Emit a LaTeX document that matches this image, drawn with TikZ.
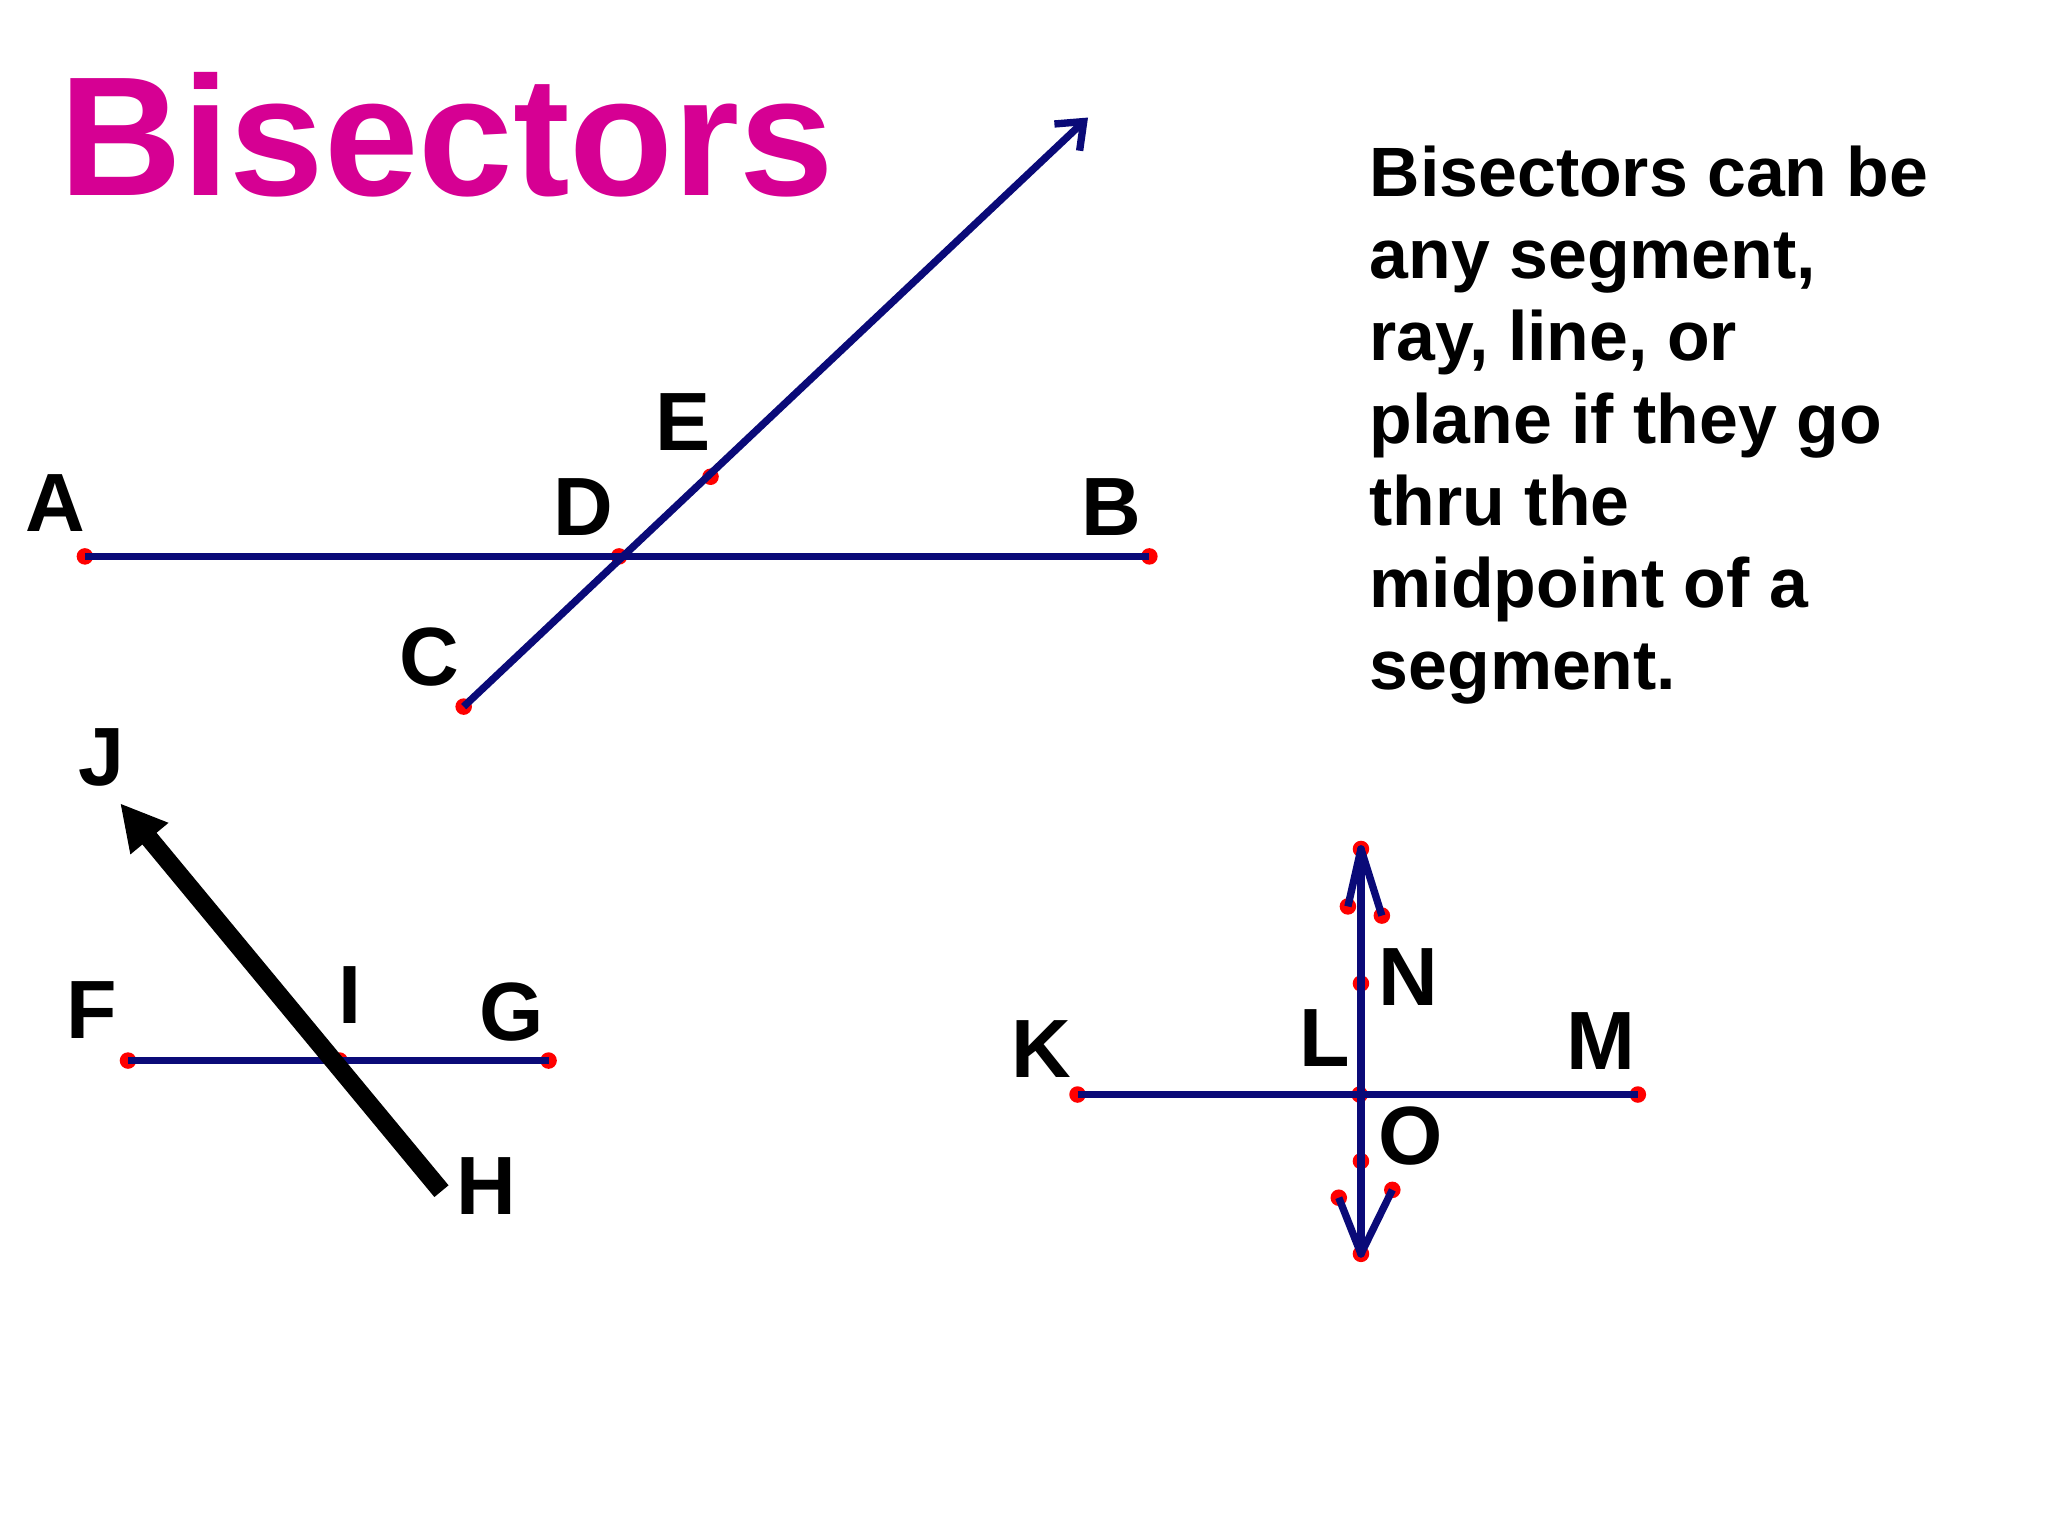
\documentclass[tikz,border=0pt]{standalone}
\usepackage{fontspec}
\setmainfont{Liberation Sans}
\usetikzlibrary{arrows.meta}
\definecolor{navy}{RGB}{10,10,120}
\definecolor{mag}{RGB}{214,0,147}
\tikzset{
 seg/.style={navy,line width=1.6pt},
 dot/.style={circle,fill=red,inner sep=0pt,minimum size=3.6pt},
 lab/.style={font=\fontsize{18}{20}\selectfont\bfseries,inner sep=0pt}
}
\begin{document}
\begin{tikzpicture}[x=0.01cm,y=-0.01cm]
\useasboundingbox[fill=white] (0,0) rectangle (1568,1176);
\node[mag,font=\fontsize{37}{40}\selectfont\bfseries,anchor=base west,inner sep=0pt] (title) at (45,150) {Bisectors};
\node[anchor=north west,align=left,inner sep=0pt,font=\fontsize{15.2}{17.9}\selectfont\bfseries] (txt) at (1048,111) {Bisectors can be\\any segment,\\ray, line, or\\plane if they go\\thru the\\midpoint of a\\segment.};
% figure 1
\node[dot] (A) at (65,426) {};
\node[dot] (B) at (880,426) {};
\node[dot] (D) at (474,426) {};
\node[dot] (C) at (355,541) {};
\node[dot] (E) at (544,365) {};
\coordinate (Et) at (833,90);
\draw[seg] (A.center) -- (B.center);
\draw[seg,-{Straight Barb[length=5pt,width=8pt]}] (C.center) -- (Et);
\node[lab] (lA) at (42,385) {A};
\node[lab] (lD) at (447,388) {D};
\node[lab] (lB) at (851,388) {B};
\node[lab] (lE) at (523,323) {E};
\node[lab] (lC) at (329,503) {C};
% figure 2
\node[dot] (F) at (98,812) {};
\node[dot] (G) at (420,812) {};
\node[dot] (I) at (260,812) {};
\coordinate (H) at (338,912);
\coordinate (J) at (92,615);
\draw[seg] (F.center) -- (G.center);
\draw[black,line width=4pt,-{Triangle[length=10pt,width=10pt]}] (H) -- (J);
\node[lab] (lF) at (70,773) {F};
\node[lab] (lI) at (268,762) {I};
\node[lab] (lG) at (392,775) {G};
\node[lab] (lJ) at (78,580) {J};
\node[lab] (lH) at (372,908) {H};
% figure 3
\node[dot] (K) at (825,838) {};
\node[dot] (M) at (1254,838) {};
\node[dot] (L) at (1041,838) {};
\node[dot] (T) at (1042,650) {};
\node[dot] (Bt) at (1042,960) {};
\node[dot] (t1) at (1032,694) {};
\node[dot] (t2) at (1058,701) {};
\node[dot] (b1) at (1025,917) {};
\node[dot] (b2) at (1066,911) {};
\node[dot] (N) at (1042,753) {};
\node[dot] (O) at (1042,889) {};
\draw[seg] (K.center) -- (M.center);
\draw[seg,line cap=round] (T.center) -- (Bt.center);
\draw[seg,line join=round] (t1.center) -- (T.center) -- (t2.center);
\draw[seg,line join=round] (b1.center) -- (Bt.center) -- (b2.center);
\node[lab] (lK) at (797,803) {K};
\node[lab] (lL) at (1014,795) {L};
\node[lab] (lN) at (1078,748) {N};
\node[lab] (lM) at (1226,797) {M};
\node[lab] (lO) at (1080,870) {O};
\end{tikzpicture}
\end{document}
